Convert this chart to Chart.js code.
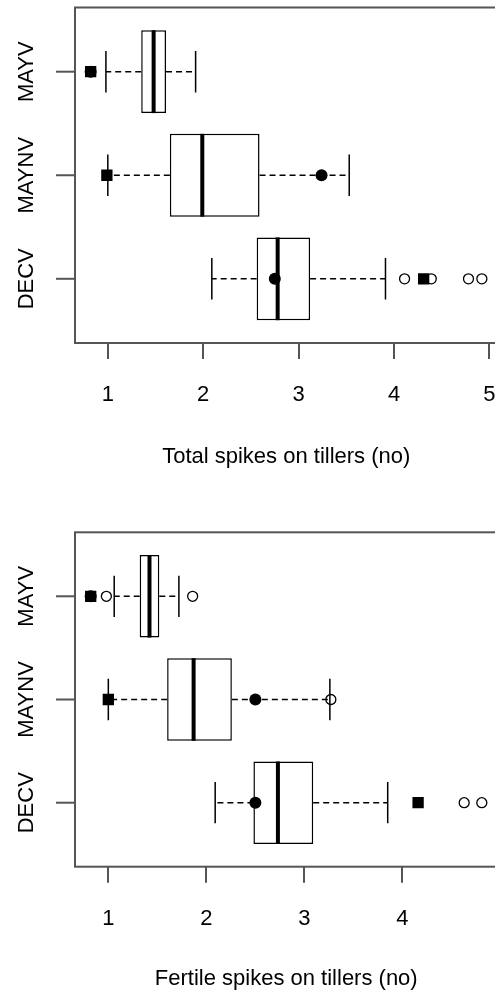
<!DOCTYPE html>
<html>
<head>
<meta charset="utf-8">
<script src="https://cdn.jsdelivr.net/npm/chart.js@4/dist/chart.umd.min.js"></script>
<style>
  html, body { margin: 0; padding: 0; background: #fff; overflow: hidden; width: 495px; height: 994px; }
  canvas { display: block; }
</style>
</head>
<body>
<canvas id="total" width="500" height="497"></canvas>
<canvas id="fertile" width="500" height="497"></canvas>
<script>
// Grupos (de abajo hacia arriba en el eje vertical)
const categories = ['DECV', 'MAYNV', 'MAYV'];

// Espigas totales en macollos
const totalLo = [2.09, 1.0, 0.98];
const totalQ1 = [2.56, 1.65, 1.35];
const totalMed = [2.78, 1.99, 1.48];
const totalQ3 = [3.12, 2.59, 1.61];
const totalHi = [3.91, 3.53, 1.92];
const totalOutliers = [[4.11, 4.39, 4.78, 4.92], [], []];
const totalSquares = [4.31, 0.99, 0.82];
const totalCircles = [2.75, 3.24, 0.82];
const totalTicks = [1, 2, 3, 4, 5];

// Espigas fértiles en macollos
const fertLo = [2.09, 1.0, 1.06];
const fertQ1 = [2.48, 1.60, 1.32];
const fertMed = [2.73, 1.87, 1.42];
const fertQ3 = [3.09, 2.26, 1.52];
const fertHi = [3.85, 3.26, 1.72];
const fertOutliers = [[4.63, 4.81], [3.27], [0.98, 1.86]];
const fertSquares = [4.16, 1.0, 0.82];
const fertCircles = [2.50, 2.50, 0.82];
const fertTicks = [1, 2, 3, 4];

const FONT = 'Liberation Sans, Arial, sans-serif';
const AXIS_GREY = '#555';

// Bigotes, topes y mediana; luego marco y eje vertical estilo R
const boxplotExtras = {
  id: 'boxplotExtras',
  afterDatasetDraw(chart, args, opts) {
    if (args.index !== 0) return;
    const { ctx } = chart;
    const xs = chart.scales.x, ys = chart.scales.y;
    const half = Math.abs(ys.getPixelForValue(0.4) - ys.getPixelForValue(0));
    const cap = half / 2;
    ctx.save();
    ctx.strokeStyle = '#000';
    opts.med.forEach((m, i) => {
      const py = ys.getPixelForValue(i + 1);
      ctx.lineWidth = 1.4;
      ctx.setLineDash([6, 4]);
      ctx.beginPath();
      ctx.moveTo(xs.getPixelForValue(opts.q1[i]), py);
      ctx.lineTo(xs.getPixelForValue(opts.lo[i]), py);
      ctx.moveTo(xs.getPixelForValue(opts.q3[i]), py);
      ctx.lineTo(xs.getPixelForValue(opts.hi[i]), py);
      ctx.stroke();
      ctx.setLineDash([]);
      ctx.lineWidth = 1.5;
      ctx.beginPath();
      [opts.lo[i], opts.hi[i]].forEach(v => {
        const px = xs.getPixelForValue(v);
        ctx.moveTo(px, py - cap);
        ctx.lineTo(px, py + cap);
      });
      ctx.stroke();
      ctx.lineWidth = 4;
      ctx.beginPath();
      const pm = xs.getPixelForValue(m);
      ctx.moveTo(pm, py - half);
      ctx.lineTo(pm, py + half);
      ctx.stroke();
    });
    ctx.restore();
  },
  afterDraw(chart) {
    const { ctx, chartArea: a } = chart;
    const ys = chart.scales.y;
    ctx.save();
    ctx.strokeStyle = AXIS_GREY;
    ctx.lineWidth = 2;
    ctx.strokeRect(a.left, a.top, a.right - a.left, a.bottom - a.top);
    ctx.font = '22px ' + FONT;
    ctx.fillStyle = '#000';
    ctx.textAlign = 'center';
    ctx.textBaseline = 'alphabetic';
    categories.forEach((c, i) => {
      const py = ys.getPixelForValue(i + 1);
      ctx.beginPath();
      ctx.moveTo(a.left, py);
      ctx.lineTo(a.left - 19, py);
      ctx.stroke();
      ctx.save();
      ctx.translate(25, py);
      ctx.rotate(-Math.PI / 2);
      ctx.fillText(c, 0, 7.9);
      ctx.restore();
    });
    ctx.restore();
  }
};

function toPoints(values) {
  return values.map((v, i) => ({ x: v, y: i + 1 }));
}

function makeBoxChart(canvasId, s) {
  const outliers = [];
  s.outliers.forEach((vals, i) => vals.forEach(v => outliers.push({ x: v, y: i + 1 })));
  return new Chart(document.getElementById(canvasId), {
    type: 'scatter',
    data: {
      datasets: [
        {
          type: 'bar',
          indexAxis: 'y',
          data: s.q1.map((q, i) => ({ x: [q, s.q3[i]], y: i + 1 })),
          backgroundColor: '#fff',
          borderColor: '#000',
          borderWidth: 1.5,
          borderSkipped: false,
          categoryPercentage: 1,
          barPercentage: 0.8,
          order: 4
        },
        {
          data: outliers,
          pointStyle: 'circle',
          radius: 5,
          borderColor: '#000',
          borderWidth: 1.3,
          backgroundColor: 'rgba(0,0,0,0)',
          order: 3
        },
        {
          data: toPoints(s.squares),
          pointStyle: 'rect',
          radius: 8,
          borderWidth: 0,
          backgroundColor: '#000',
          order: 2
        },
        {
          data: toPoints(s.circles),
          pointStyle: 'circle',
          radius: 6,
          borderWidth: 0,
          backgroundColor: '#000',
          order: 1
        }
      ]
    },
    options: {
      responsive: false,
      animation: false,
      events: [],
      layout: { autoPadding: false, padding: { left: 75, top: s.top, right: 2.5, bottom: s.bottom } },
      plugins: {
        legend: { display: false },
        tooltip: { enabled: false },
        boxplotExtras: { lo: s.lo, q1: s.q1, med: s.med, q3: s.q3, hi: s.hi }
      },
      scales: {
        x: {
          type: 'linear',
          offset: false,
          min: s.min,
          max: s.max,
          afterBuildTicks: scale => { scale.ticks = s.ticks.map(v => ({ value: v })); },
          afterFit: scale => {
            // alto fijo del eje y sin margen lateral por las etiquetas
            scale.height = s.axisHeight;
            scale.paddingLeft = 0;
            scale.paddingRight = 0;
          },
          grid: { offset: false, drawOnChartArea: false, drawTicks: true, tickLength: 16, color: AXIS_GREY, lineWidth: 2 },
          border: { display: false },
          ticks: { font: { family: FONT, size: 22 }, color: '#000', padding: 22.8, maxRotation: 0 },
          title: {
            display: true,
            text: s.title,
            font: { family: FONT, size: 22 },
            color: '#000',
            padding: { top: 10, bottom: 0 }
          }
        },
        y: {
          type: 'linear',
          offset: false,
          min: 0.38,
          max: 3.62,
          display: false,
          grid: { offset: false },
          afterBuildTicks: scale => { scale.ticks = categories.map((c, i) => ({ value: i + 1 })); }
        }
      }
    },
    plugins: [boxplotExtras]
  });
}

makeBoxChart('total', {
  lo: totalLo, q1: totalQ1, med: totalMed, q3: totalQ3, hi: totalHi,
  outliers: totalOutliers, squares: totalSquares, circles: totalCircles,
  ticks: totalTicks, min: 0.656, max: 5.084,
  title: 'Total spikes on tillers (no)', top: 7.5, bottom: 26.8, axisHeight: 127.2
});

makeBoxChart('fertile', {
  lo: fertLo, q1: fertQ1, med: fertMed, q3: fertQ3, hi: fertHi,
  outliers: fertOutliers, squares: fertSquares, circles: fertCircles,
  ticks: fertTicks, min: 0.66, max: 4.97,
  title: 'Fertile spikes on tillers (no)', top: 35.3, bottom: 2.1, axisHeight: 125.2
});
</script>
</body>
</html>
